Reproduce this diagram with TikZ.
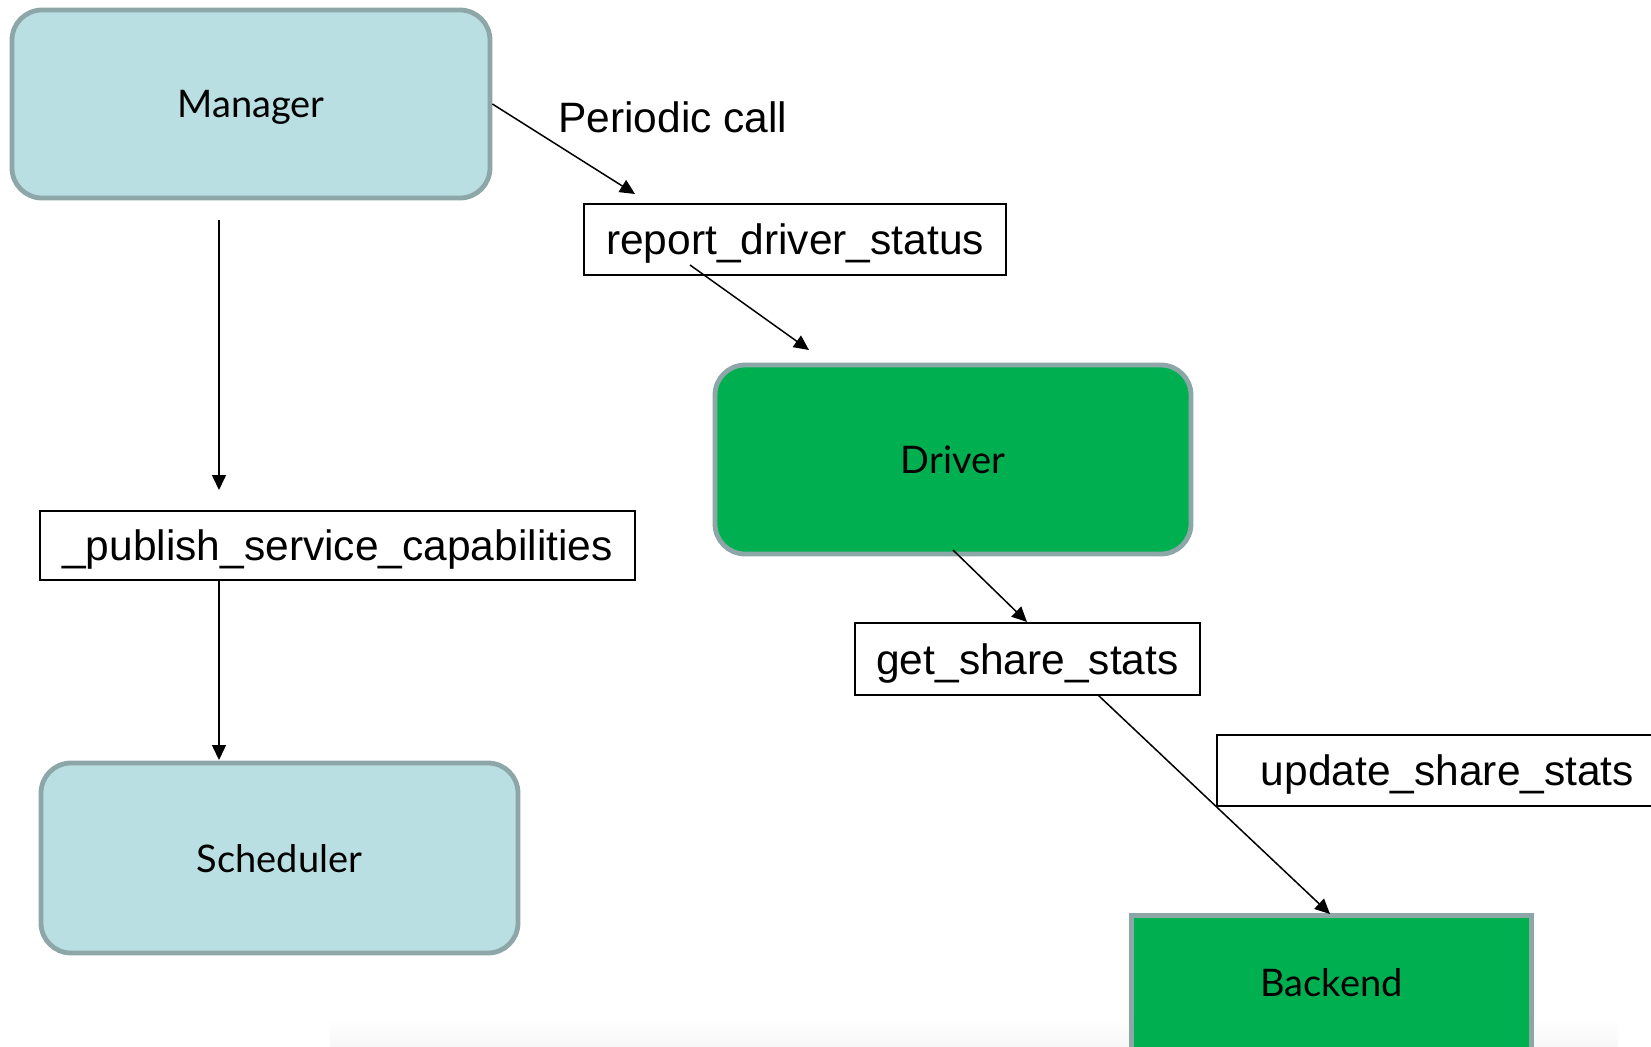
\documentclass[tikz,border=0pt]{standalone}
\usepackage{fontspec}
\setmainfont{Liberation Sans}
\newfontfamily\boxfont{Lato}
\usetikzlibrary{arrows.meta,calc}

\definecolor{paleteal}{HTML}{B9DFE2}
\definecolor{edgegrey}{HTML}{8DA6A8}
\definecolor{officegreen}{HTML}{00B050}

\tikzset{
  every picture/.style={x=0.5pt,y=-0.5pt},
  roundbox/.style={draw=edgegrey, line width=2.4pt, rounded corners=15pt,
    inner sep=0pt, text depth=0pt, font=\boxfont\fontsize{19pt}{22pt}\selectfont},
  tealbox/.style={roundbox, fill=paleteal},
  greenbox/.style={roundbox, fill=officegreen},
  callbox/.style={draw=black, line width=0.75pt, fill=white, inner sep=0pt,
    text depth=0pt, font=\fontsize{21.25pt}{25pt}\selectfont},
  flow/.style={draw=black, line width=0.75pt,
    -{Triangle[length=7.5pt,width=7pt]}},
}

\begin{document}
\begin{tikzpicture}
  \useasboundingbox (0,0) rectangle (1651,1046);
  \clip (0,0) rectangle (1651,1046);

  % faint floor shadow along the lower edge
  \shade[top color=white, bottom color=black!3, draw=none]
    (330,1018) rectangle (1618,1046);

  % components
  \node[tealbox, minimum width=239pt, minimum height=94pt] (manager) at (251,104) {Manager};
  \node[tealbox, minimum width=238.5pt, minimum height=95pt] (scheduler) at (279.5,858) {Scheduler};
  \node[greenbox, minimum width=238pt, minimum height=94.5pt] (driver) at (953,459.5) {Driver};
  \node[greenbox, rounded corners=0pt, minimum width=200pt, minimum height=67pt] (backend) at (1331.5,982.5) {Backend};

  % call names
  \node[callbox, minimum width=211pt, minimum height=35.5pt] (report) at (795,239.5) {report\_driver\_status};
  \node[callbox, minimum width=297.5pt, minimum height=34.5pt] (publish) at (337.5,545.5) {\_publish\_service\_capabilities};
  \node[callbox, minimum width=172.5pt, minimum height=36pt] (getstats) at (1027.5,659) {get\_share\_stats};
  \node[callbox, anchor=west, minimum height=35.5pt, inner xsep=22pt,
        text width=210pt, align=left] (updstats) at (1216,770.5) {update\_share\_stats};

  \node[anchor=base west, inner sep=0pt, font=\fontsize{21.25pt}{25pt}\selectfont]
    (periodic) at (558,132) {Periodic call};

  % connector ends
  \coordinate (m1) at (219,220);
  \coordinate (p1) at (219,490);
  \coordinate (p2) at (219,580);
  \coordinate (s1) at (219,760);
  \coordinate (r1) at (635,194);
  \coordinate (r2) at (690,265);
  \coordinate (d1) at (809,350);
  \coordinate (d2) at (953,550);
  \coordinate (g1) at (1027,622);
  \coordinate (g2) at (1098,695);
  \coordinate (b1) at (1330,914);

  % connectors
  \draw[flow] (manager.east) -- (r1);
  \draw[flow] (r2) -- (d1);
  \draw[flow] (d2) -- (g1);
  \draw[flow] (g2) -- (b1);
  \draw[flow] (m1) -- (p1);
  \draw[flow] (p2) -- (s1);
\end{tikzpicture}
\end{document}
